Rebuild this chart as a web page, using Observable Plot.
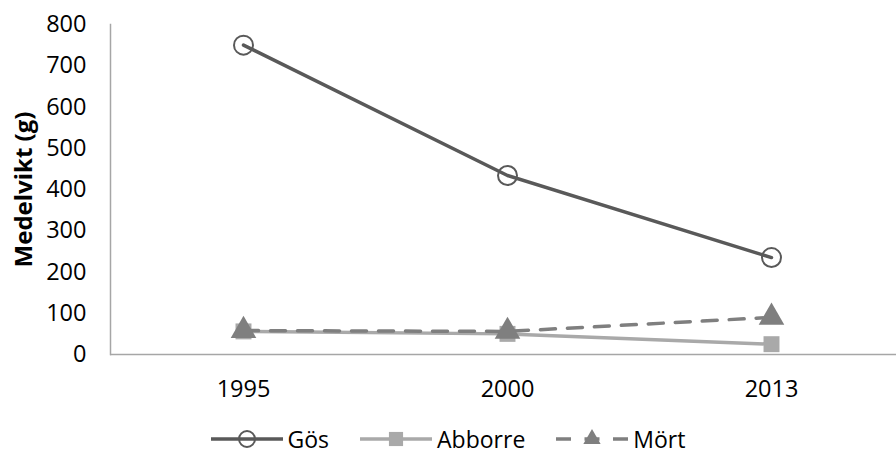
<!DOCTYPE html>
<html>
<head>
<meta charset="utf-8">
<script src="https://cdn.jsdelivr.net/npm/d3@7"></script>
<script src="https://cdn.jsdelivr.net/npm/@observablehq/plot@0.6"></script>
<style>
  html, body { margin: 0; background: #fff; font-family: "Open Sans", sans-serif; overflow: hidden; }
  #chart { width: 896px; }
  .legend { display: flex; justify-content: center; align-items: center; height: 46px; padding-top: 6px; font-size: 23px; line-height: 28px; color: #000; }
  .legend .item { display: flex; align-items: center; margin: 0 15.5px; }
  .legend svg { margin-right: 5px; }
</style>
</head>
<body>
<div id="chart"></div>
<script>
// Average weight (g) of fish by survey year
const years = ["1995", "2000", "2013"];
const gos = [750, 434, 235];
const abborre = [56, 50, 25];
const mort = [58, 56, 90];
const yTicks = [0, 100, 200, 300, 400, 500, 600, 700, 800];
const yLabel = "Medelvikt (g)";

const seriesNames = ["Gös", "Abborre", "Mört"];
const styles = {
  "Gös": {stroke: "#595959", dash: null, symbol: "circle", fill: "none"},
  "Abborre": {stroke: "#a9a9a9", dash: null, symbol: "square", fill: "#a9a9a9"},
  "Mört": {stroke: "#7f7f7f", dash: "15,12", symbol: "triangle", fill: "#7f7f7f"}
};

const toRows = (name, values) => years.map((year, i) => ({series: name, year, value: values[i]}));
const rows = {
  "Gös": toRows("Gös", gos),
  "Abborre": toRows("Abborre", abborre),
  "Mört": toRows("Mört", mort)
};

const plot = Plot.plot({
  width: 896,
  height: 410,
  marginLeft: 110,
  marginTop: 24,
  marginBottom: 56,
  marginRight: 0,
  style: {fontFamily: "Open Sans, sans-serif", fontSize: "23.5px", color: "#000", background: "white"},
  x: {type: "point", domain: years, range: [110, 904], padding: 0.5},
  y: {domain: [0, 800], range: [354, 24]},
  marks: [
    Plot.frame({anchor: "left", stroke: "#a6a6a6", strokeWidth: 1.5}),
    Plot.ruleY([0], {stroke: "#a6a6a6", strokeWidth: 1.5}),
    Plot.axisY(yTicks, {tickSize: 0, tickPadding: 24, label: null, fontSize: 23.5}),
    Plot.axisX(years, {tickSize: 0, tickPadding: 26, label: null, fontSize: 23.5}),
    Plot.text([yLabel], {frameAnchor: "left", textAnchor: "middle", dx: -86, rotate: -90, fontWeight: "bold", fontSize: 24, text: d => d}),
    // Abborre
    Plot.line(rows["Abborre"], {x: "year", y: "value", stroke: styles["Abborre"].stroke, strokeWidth: 3.5}),
    Plot.dot(rows["Abborre"], {x: "year", y: "value", symbol: "square", r: 9, fill: styles["Abborre"].fill, stroke: "none"}),
    // Mört
    Plot.line(rows["Mört"], {x: "year", y: "value", stroke: styles["Mört"].stroke, strokeWidth: 3.5, strokeDasharray: styles["Mört"].dash}),
    Plot.dot(rows["Mört"], {x: "year", y: "value", symbol: "triangle", r: 9.5, fill: styles["Mört"].fill, stroke: "none"}),
    // Gös
    Plot.line(rows["Gös"], {x: "year", y: "value", stroke: styles["Gös"].stroke, strokeWidth: 3.5}),
    Plot.dot(rows["Gös"], {x: "year", y: "value", symbol: "circle", r: 9.5, fill: "none", stroke: styles["Gös"].stroke, strokeWidth: 2})
  ]
});
document.getElementById("chart").appendChild(plot);

// Legend: line swatch with its marker, then the series name
const legend = d3.select("#chart").append("div").attr("class", "legend");
for (const name of seriesNames) {
  const s = styles[name];
  const item = legend.append("div").attr("class", "item");
  const sw = item.append("svg").attr("width", 72).attr("height", 24);
  sw.append("line").attr("x1", 0).attr("x2", 72).attr("y1", 12).attr("y2", 12)
    .attr("stroke", s.stroke).attr("stroke-width", 3.5)
    .attr("stroke-dasharray", s.dash ? "15,13.5" : null);
  const sym = s.symbol === "circle" ? d3.symbolCircle : s.symbol === "square" ? d3.symbolSquare : d3.symbolTriangle;
  const size = s.symbol === "circle" ? 200 : s.symbol === "square" ? 200 : 130;
  sw.append("path").attr("transform", "translate(36,12)")
    .attr("d", d3.symbol(sym, size)())
    .attr("fill", s.fill)
    .attr("stroke", s.symbol === "circle" ? s.stroke : "none")
    .attr("stroke-width", 2);
  item.append("span").text(name);
}
</script>
</body>
</html>
